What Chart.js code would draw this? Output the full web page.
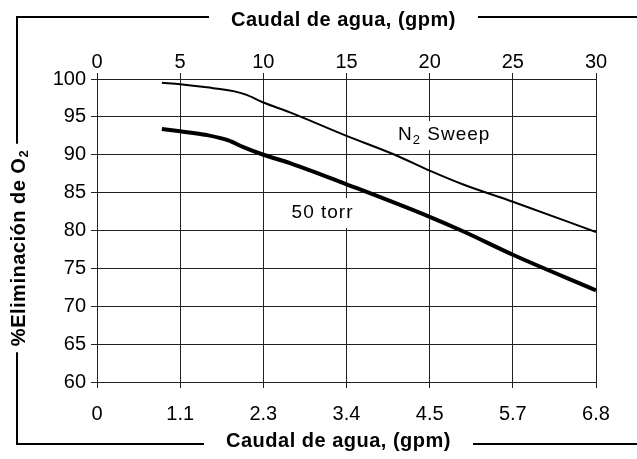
<!DOCTYPE html>
<html>
<head>
<meta charset="utf-8">
<script src="https://cdn.jsdelivr.net/npm/chart.js@4.4.1/dist/chart.umd.min.js"></script>
<style>
    html, body { margin: 0; padding: 0; background: #fff; }
    #contenedor { width: 637px; height: 459px; position: relative; }
</style>
</head>
<body>
<div id="contenedor"><canvas id="graficoO2"></canvas></div>
<script>
// Datos
const tituloX = 'Caudal de agua, (gpm)';
const tituloY = '%Eliminación de O';
const ticksArriba = [0, 5, 10, 15, 20, 25, 30];
const ticksAbajo = ['0', '1.1', '2.3', '3.4', '4.5', '5.7', '6.8'];
const ticksY = [60, 65, 70, 75, 80, 85, 90, 95, 100];

const n2X = [3.9, 5, 6.6, 8.2, 9, 10, 11.6, 15, 17.9, 20, 22.1, 25, 30];
const n2Y = [99.5, 99.3, 98.9, 98.4, 97.9, 96.9, 95.6, 92.5, 90.0, 87.9, 86.0, 83.8, 79.8];
const torrX = [3.9, 5, 6.6, 7.9, 8.8, 10, 11.6, 15, 20, 22.1, 25, 30];
const torrY = [93.4, 93.1, 92.6, 91.9, 91.0, 90.0, 88.9, 86.1, 81.8, 79.8, 76.8, 72.1];

// posicion de las etiquetas de las curvas (en unidades de datos)
const etiquetaN2 = { x: 18.1, y: 92.6 };
const etiquetaTorr = { x: 11.7, y: 82.3 };

const fuente = "'Liberation Sans', Arial, sans-serif";

function puntos(xs, ys) {
    return xs.map((x, i) => ({ x: x, y: ys[i] }));
}

// Marco con los titulos cortando las lineas
const marcoPlugin = {
    id: 'marco',
    afterDraw(chart) {
        const ctx = chart.ctx;
        const area = chart.chartArea;
        const W = chart.width;
        const izq = 17, arriba = 17, abajo = 444;
        const centroX = (area.left + area.right) / 2 - 3;
        const centroY = 248;

        ctx.save();
        ctx.fillStyle = '#000';
        ctx.strokeStyle = '#000';
        ctx.lineWidth = 2;
        ctx.font = 'bold 20px ' + fuente;
        ctx.letterSpacing = '0.5px';
        ctx.textBaseline = 'middle';
        ctx.textAlign = 'center';

        const anchoX = ctx.measureText(tituloX).width;
        const hueco = anchoX / 2 + 22;

        ctx.fillText(tituloX, centroX, 20);
        ctx.fillText(tituloX, centroX - 5, 441);

        ctx.beginPath();
        ctx.moveTo(izq, arriba); ctx.lineTo(centroX - hueco, arriba);
        ctx.moveTo(centroX + hueco, arriba); ctx.lineTo(W, arriba);
        ctx.moveTo(izq, abajo); ctx.lineTo(centroX - 5 - hueco, abajo);
        ctx.moveTo(centroX - 5 + hueco, abajo); ctx.lineTo(W, abajo);
        ctx.stroke();

        // titulo vertical con subindice
        const anchoY = ctx.measureText(tituloY).width;
        ctx.font = 'bold 13px ' + fuente;
        const anchoSub = ctx.measureText('2').width;
        const total = anchoY + anchoSub;
        ctx.translate(izq + 2, centroY);
        ctx.rotate(-Math.PI / 2);
        ctx.textAlign = 'left';
        ctx.font = 'bold 20px ' + fuente;
        ctx.fillText(tituloY, -total / 2, 0);
        ctx.font = 'bold 13px ' + fuente;
        ctx.fillText('2', -total / 2 + anchoY, 5);
        ctx.setTransform(1, 0, 0, 1, 0, 0);

        ctx.beginPath();
        ctx.moveTo(izq, arriba - 1); ctx.lineTo(izq, centroY - total / 2 - 6);
        ctx.moveTo(izq, centroY + total / 2 + 6); ctx.lineTo(izq, abajo + 1);
        ctx.stroke();

        // etiquetas de las curvas con fondo blanco
        const sx = chart.scales.x, sy = chart.scales.y;
        ctx.font = '19px ' + fuente;
        ctx.letterSpacing = '1px';
        ctx.textAlign = 'left';

        let px = sx.getPixelForValue(etiquetaN2.x);
        let py = sy.getPixelForValue(etiquetaN2.y);
        const wN = ctx.measureText('N').width;
        ctx.font = '13px ' + fuente;
        const w2 = ctx.measureText('2').width;
        ctx.font = '19px ' + fuente;
        const wS = ctx.measureText(' Sweep').width;
        ctx.fillStyle = '#fff';
        ctx.fillRect(px - 3, py - 14, wN + w2 + wS + 5, 29);
        ctx.fillStyle = '#000';
        ctx.fillText('N', px, py);
        ctx.font = '13px ' + fuente;
        ctx.fillText('2', px + wN, py + 5);
        ctx.font = '19px ' + fuente;
        ctx.fillText(' Sweep', px + wN + w2, py);

        px = sx.getPixelForValue(etiquetaTorr.x);
        py = sy.getPixelForValue(etiquetaTorr.y);
        const wT = ctx.measureText('50 torr').width;
        ctx.fillStyle = '#fff';
        ctx.fillRect(px - 3, py - 15, wT + 5, 30);
        ctx.fillStyle = '#000';
        ctx.fillText('50 torr', px, py);
        ctx.restore();
    }
};

const ctx = document.getElementById('graficoO2').getContext('2d');
new Chart(ctx, {
    type: 'line',
    data: {
        datasets: [{
            label: 'N2 Sweep',
            data: puntos(n2X, n2Y),
            borderColor: '#000',
            borderWidth: 2,
            pointRadius: 0,
            tension: 0.4,
            cubicInterpolationMode: 'monotone',
            xAxisID: 'x',
            yAxisID: 'y'
        }, {
            label: '50 torr',
            data: puntos(torrX, torrY),
            borderColor: '#000',
            borderWidth: 4,
            pointRadius: 0,
            tension: 0.4,
            cubicInterpolationMode: 'monotone',
            xAxisID: 'x',
            yAxisID: 'y'
        }]
    },
    options: {
        responsive: true,
        maintainAspectRatio: false,
        animation: false,
        layout: { padding: { left: 0, right: 41, top: 0, bottom: 0 } },
        plugins: {
            legend: { display: false },
            tooltip: { enabled: false }
        },
        scales: {
            x: {
                type: 'linear',
                position: 'top',
                min: ticksArriba[0],
                max: ticksArriba[ticksArriba.length - 1],
                afterBuildTicks: s => { s.ticks = ticksArriba.map(v => ({ value: v })); },
                afterFit: s => { s.height = 79; },
                grid: { color: '#222', lineWidth: 1, tickLength: 6, tickColor: '#222' },
                border: { color: '#222' },
                ticks: { color: '#000', padding: -1, maxRotation: 0, font: { family: fuente, size: 20 } }
            },
            x2: {
                type: 'linear',
                position: 'bottom',
                min: ticksArriba[0],
                max: ticksArriba[ticksArriba.length - 1],
                afterBuildTicks: s => { s.ticks = ticksArriba.map(v => ({ value: v })); },
                afterFit: s => { s.height = 77; },
                grid: { drawOnChartArea: false, color: '#222', tickLength: 6 },
                border: { color: '#222' },
                ticks: {
                    color: '#000', padding: 14, maxRotation: 0,
                    font: { family: fuente, size: 20 },
                    callback: (v, i) => ticksAbajo[i]
                }
            },
            y: {
                type: 'linear',
                min: ticksY[0],
                max: ticksY[ticksY.length - 1],
                afterBuildTicks: s => { s.ticks = ticksY.map(v => ({ value: v })); },
                afterFit: s => { s.width = 97; },
                grid: { color: '#222', lineWidth: 1, tickLength: 6 },
                border: { color: '#222' },
                ticks: { color: '#000', padding: 5, font: { family: fuente, size: 20 } }
            }
        }
    },
    plugins: [marcoPlugin]
});
</script>
</body>
</html>
